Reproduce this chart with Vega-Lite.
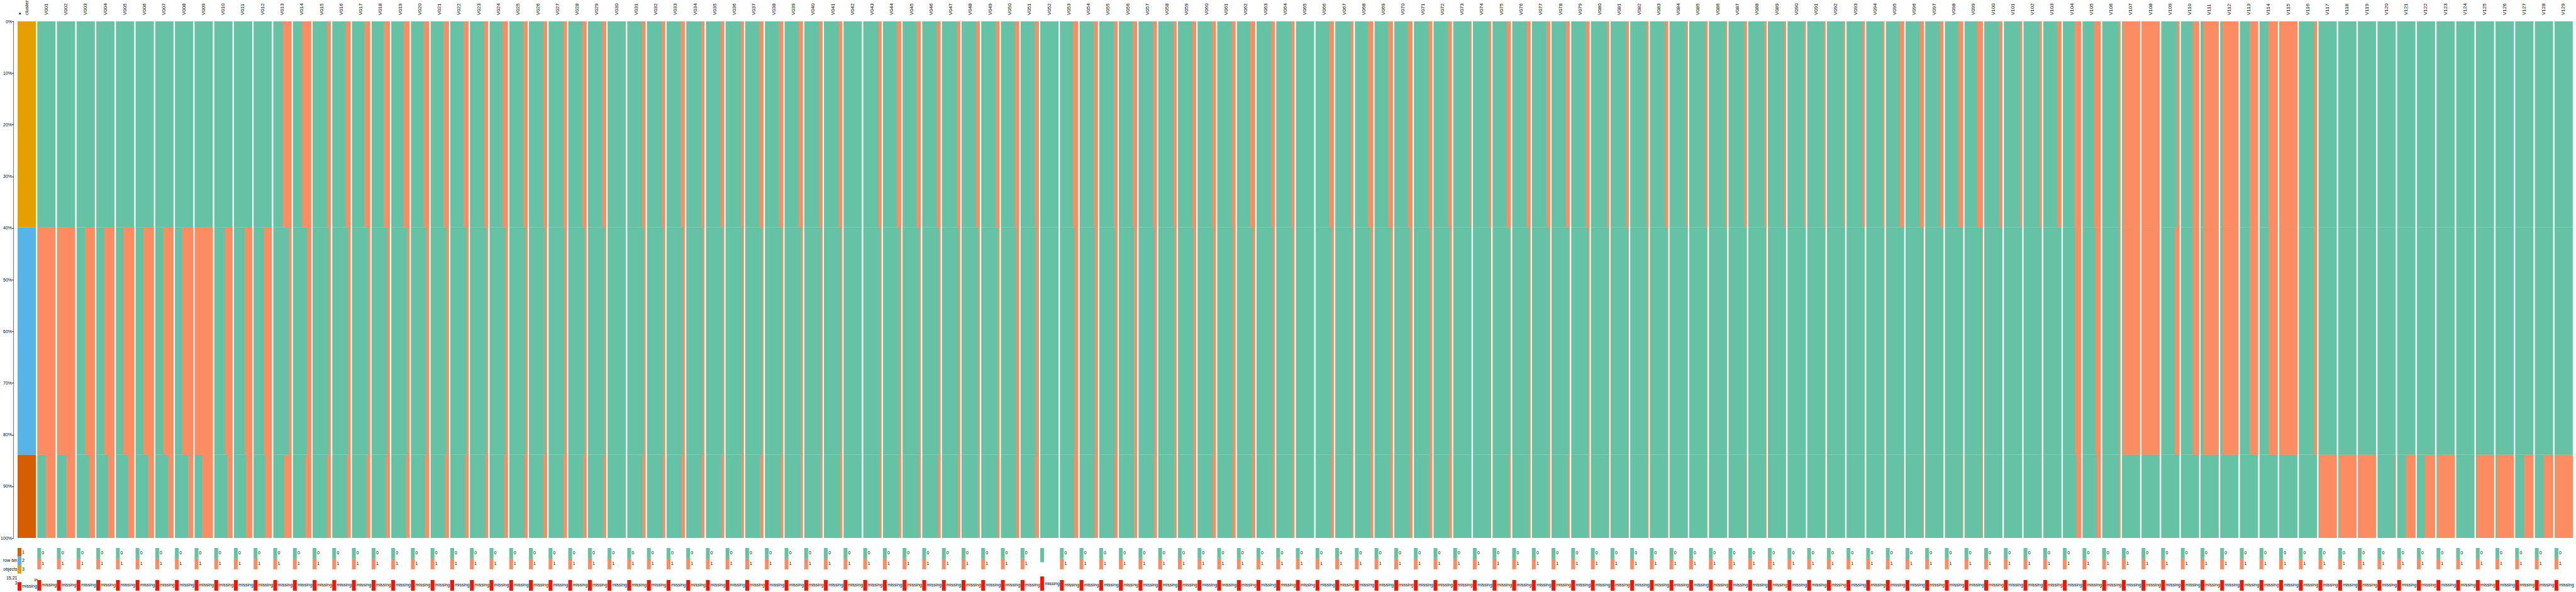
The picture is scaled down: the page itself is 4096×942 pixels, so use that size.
{
  "$schema": "https://vega.github.io/schema/vega-lite/v6.json",
  "autosize": {"type": "pad"},
  "padding": {"left": 0, "top": 0, "right": 0, "bottom": 0},
  "background": "white",
  "config": {"view": {"stroke": null}, "font": "Liberation Sans"},
  "datasets": {
    "seg": [
      {"f": "a", "lo": 0, "hi": 39.8, "cl": "3"},
      {"f": "b", "lo": 39.8, "hi": 83.9, "cl": "2"},
      {"f": "c", "lo": 83.9, "hi": 100, "cl": "1"}
    ],
    "keys": [
      {"k": "g", "t": "0"}, {"k": "o", "t": "1"}, {"k": "z0", "t": ""}, {"k": "gap", "t": ""},
      {"k": "missing", "t": "missing"}, {"k": "1", "t": "1"}, {"k": "2", "t": "2"}, {"k": "3", "t": "3"}
    ],
    "main": [
      {"v":"cluster","a":1,"b":1,"c":1},
      {"v":"V001","a":0,"b":0.98,"c":0.54},{"v":"V002","a":0,"b":0.95,"c":0.5},{"v":"V003","a":0,"b":0.54,"c":0.31},
      {"v":"V004","a":0,"b":0.58,"c":0.36},{"v":"V005","a":0,"b":0.6,"c":0.35},{"v":"V006","a":0,"b":0.57,"c":0.31},
      {"v":"V007","a":0,"b":0.57,"c":0.29},{"v":"V008","a":0,"b":0.62,"c":0.28},{"v":"V009","a":0,"b":0.98,"c":0.6},
      {"v":"V010","a":0,"b":0.41,"c":0.3},{"v":"V011","a":0,"b":0.42,"c":0.34},{"v":"V012","a":0,"b":0.43,"c":0.37},
      {"v":"V013","a":0.47,"b":0.13,"c":0.4},{"v":"V014","a":0.5,"b":0.22,"c":0.33},{"v":"V015","a":0.2,"b":0.12,"c":0.2},
      {"v":"V016","a":0.26,"b":0.12,"c":0.18},{"v":"V017","a":0.32,"b":0.12,"c":0.2},{"v":"V018","a":0.32,"b":0.14,"c":0.2},
      {"v":"V019","a":0.33,"b":0.12,"c":0.2},{"v":"V020","a":0.3,"b":0.15,"c":0.22},{"v":"V021","a":0.3,"b":0.15,"c":0.22},
      {"v":"V022","a":0.28,"b":0.13,"c":0.18},{"v":"V023","a":0.22,"b":0.1,"c":0.15},{"v":"V024","a":0.3,"b":0.12,"c":0.2},
      {"v":"V025","a":0.22,"b":0.1,"c":0.18},{"v":"V026","a":0.2,"b":0.12,"c":0.2},{"v":"V027","a":0.18,"b":0.12,"c":0.18},
      {"v":"V028","a":0.22,"b":0.1,"c":0.18},{"v":"V029","a":0.2,"b":0.08,"c":0.15},{"v":"V030","a":0.01,"b":0,"c":0.01},
      {"v":"V031","a":0.2,"b":0.1,"c":0.18},{"v":"V032","a":0.18,"b":0.1,"c":0.15},{"v":"V033","a":0.22,"b":0.1,"c":0.18},
      {"v":"V034","a":0.18,"b":0.1,"c":0.15},{"v":"V035","a":0.18,"b":0.08,"c":0.15},{"v":"V036","a":0.15,"b":0.08,"c":0.12},
      {"v":"V037","a":0.22,"b":0.1,"c":0.18},{"v":"V038","a":0.22,"b":0.08,"c":0.12},{"v":"V039","a":0.22,"b":0.08,"c":0.12},
      {"v":"V040","a":0.18,"b":0.07,"c":0.1},{"v":"V041","a":0.2,"b":0.08,"c":0.1},{"v":"V042","a":0.005,"b":0,"c":0},
      {"v":"V043","a":0.18,"b":0.08,"c":0.1},{"v":"V044","a":0.23,"b":0.08,"c":0.1},{"v":"V045","a":0.24,"b":0.09,"c":0.12},
      {"v":"V046","a":0.2,"b":0.09,"c":0.12},{"v":"V047","a":0.18,"b":0.08,"c":0.12},{"v":"V048","a":0.2,"b":0.08,"c":0.1},
      {"v":"V049","a":0.2,"b":0.08,"c":0.1},{"v":"V050","a":0.23,"b":0.15,"c":0.15},{"v":"V051","a":0.22,"b":0.17,"c":0.2},
      {"v":"V052","a":0,"b":0,"c":0},{"v":"V053","a":0.28,"b":0.2,"c":0.22},{"v":"V054","a":0.23,"b":0.17,"c":0.18},
      {"v":"V055","a":0.2,"b":0.14,"c":0.16},{"v":"V056","a":0.25,"b":0.18,"c":0.18},{"v":"V057","a":0.2,"b":0.14,"c":0.16},
      {"v":"V058","a":0.18,"b":0.1,"c":0.12},{"v":"V059","a":0.2,"b":0.14,"c":0.16},{"v":"V060","a":0.2,"b":0.15,"c":0.17},
      {"v":"V061","a":0.2,"b":0.14,"c":0.16},{"v":"V062","a":0.28,"b":0.14,"c":0.17},{"v":"V063","a":0.2,"b":0.1,"c":0.13},
      {"v":"V064","a":0.18,"b":0.1,"c":0.1},{"v":"V065","a":0.005,"b":0,"c":0},{"v":"V066","a":0.25,"b":0.13,"c":0.15},
      {"v":"V067","a":0.15,"b":0.08,"c":0.1},{"v":"V068","a":0.28,"b":0.13,"c":0.15},{"v":"V069","a":0.24,"b":0.12,"c":0.14},
      {"v":"V070","a":0.25,"b":0.13,"c":0.16},{"v":"V071","a":0.2,"b":0.13,"c":0.15},{"v":"V072","a":0.2,"b":0.12,"c":0.14},
      {"v":"V073","a":0.08,"b":0.01,"c":0.01},{"v":"V074","a":0.1,"b":0.02,"c":0.02},{"v":"V075","a":0.22,"b":0.05,"c":0.07},
      {"v":"V076","a":0.2,"b":0.06,"c":0.08},{"v":"V077","a":0.2,"b":0.05,"c":0.07},{"v":"V078","a":0.22,"b":0.05,"c":0.07},
      {"v":"V079","a":0.22,"b":0.05,"c":0.07},{"v":"V080","a":0.13,"b":0.04,"c":0.04},{"v":"V081","a":0.15,"b":0.04,"c":0.04},
      {"v":"V082","a":0.1,"b":0.04,"c":0.04},{"v":"V083","a":0.15,"b":0.03,"c":0.03},{"v":"V084","a":0.1,"b":0.02,"c":0.02},
      {"v":"V085","a":0.1,"b":0.01,"c":0.01},{"v":"V086","a":0.08,"b":0.01,"c":0.01},{"v":"V087","a":0.15,"b":0.02,"c":0.03},
      {"v":"V088","a":0.12,"b":0.02,"c":0.02},{"v":"V089","a":0.12,"b":0.02,"c":0.02},{"v":"V090","a":0.09,"b":0.01,"c":0.01},
      {"v":"V091","a":0.08,"b":0.01,"c":0.01},{"v":"V092","a":0.1,"b":0.01,"c":0.01},{"v":"V093","a":0.12,"b":0.01,"c":0.01},
      {"v":"V094","a":0.08,"b":0.01,"c":0.01},{"v":"V095","a":0.25,"b":0.02,"c":0.03},{"v":"V096","a":0.22,"b":0.02,"c":0.03},
      {"v":"V097","a":0.2,"b":0.02,"c":0.03},{"v":"V098","a":0.25,"b":0.02,"c":0.03},{"v":"V099","a":0.3,"b":0.02,"c":0.03},
      {"v":"V100","a":0.18,"b":0.01,"c":0.01},{"v":"V101","a":0.1,"b":0.01,"c":0.01},{"v":"V102","a":0.13,"b":0.01,"c":0.01},
      {"v":"V103","a":0.22,"b":0.02,"c":0.02},{"v":"V104","a":0.36,"b":0.33,"c":0.27},{"v":"V105","a":0.37,"b":0.3,"c":0.22},
      {"v":"V106","a":0.1,"b":0.07,"c":0.05},{"v":"V107","a":0.96,"b":0.96,"c":0},{"v":"V108","a":0.99,"b":0.99,"c":0},
      {"v":"V109","a":0.13,"b":0.25,"c":0},{"v":"V110","a":0.35,"b":0.35,"c":0},{"v":"V111","a":0.85,"b":0.85,"c":0},
      {"v":"V112","a":0.88,"b":0.88,"c":0},{"v":"V113","a":0.47,"b":0.47,"c":0},{"v":"V114","a":0.52,"b":0.5,"c":0},
      {"v":"V115","a":0.99,"b":0.99,"c":0},{"v":"V116","a":0.16,"b":0.18,"c":0},{"v":"V117","a":0,"b":0,"c":0.97},
      {"v":"V118","a":0,"b":0,"c":0.95},{"v":"V119","a":0,"b":0,"c":0.97},{"v":"V120","a":0,"b":0,"c":0.03},
      {"v":"V121","a":0,"b":0,"c":0.52},{"v":"V122","a":0,"b":0,"c":0.57},{"v":"V123","a":0,"b":0,"c":0.97},
      {"v":"V124","a":0,"b":0,"c":0.01},{"v":"V125","a":0,"b":0,"c":0.95},{"v":"V126","a":0,"b":0,"c":0.95},
      {"v":"V127","a":0,"b":0,"c":0.52},{"v":"V128","a":0,"b":0,"c":0.52},{"v":"V129","a":0,"b":0,"c":0.97}
    ],
    "leg": [
      {"v":"cluster","k":["1","2","3","gap","missing"]},
      {"v":"cluster","k":["2"],"n":"row bin"},
      {"v":"cluster","k":["3"],"n":"objects"},
      {"v":"cluster","k":["gap"],"n":"15,21\n3"},
      {"v":"cluster","k":["gap"],"m":"in"},
      {"v":"V001","k":["g","o","gap","missing"]},{"v":"V002","k":["g","o","gap","missing"]},{"v":"V003","k":["g","o","gap","missing"]},
      {"v":"V004","k":["g","o","gap","missing"]},{"v":"V005","k":["g","o","gap","missing"]},{"v":"V006","k":["g","o","gap","missing"]},
      {"v":"V007","k":["g","o","gap","missing"]},{"v":"V008","k":["g","o","gap","missing"]},{"v":"V009","k":["g","o","gap","missing"]},
      {"v":"V010","k":["g","o","gap","missing"]},{"v":"V011","k":["g","o","gap","missing"]},{"v":"V012","k":["g","o","gap","missing"]},
      {"v":"V013","k":["g","o","gap","missing"]},{"v":"V014","k":["g","o","gap","missing"]},{"v":"V015","k":["g","o","gap","missing"]},
      {"v":"V016","k":["g","o","gap","missing"]},{"v":"V017","k":["g","o","gap","missing"]},{"v":"V018","k":["g","o","gap","missing"]},
      {"v":"V019","k":["g","o","gap","missing"]},{"v":"V020","k":["g","o","gap","missing"]},{"v":"V021","k":["g","o","gap","missing"]},
      {"v":"V022","k":["g","o","gap","missing"]},{"v":"V023","k":["g","o","gap","missing"]},{"v":"V024","k":["g","o","gap","missing"]},
      {"v":"V025","k":["g","o","gap","missing"]},{"v":"V026","k":["g","o","gap","missing"]},{"v":"V027","k":["g","o","gap","missing"]},
      {"v":"V028","k":["g","o","gap","missing"]},{"v":"V029","k":["g","o","gap","missing"]},{"v":"V030","k":["g","o","gap","missing"]},
      {"v":"V031","k":["g","o","gap","missing"]},{"v":"V032","k":["g","o","gap","missing"]},{"v":"V033","k":["g","o","gap","missing"]},
      {"v":"V034","k":["g","o","gap","missing"]},{"v":"V035","k":["g","o","gap","missing"]},{"v":"V036","k":["g","o","gap","missing"]},
      {"v":"V037","k":["g","o","gap","missing"]},{"v":"V038","k":["g","o","gap","missing"]},{"v":"V039","k":["g","o","gap","missing"]},
      {"v":"V040","k":["g","o","gap","missing"]},{"v":"V041","k":["g","o","gap","missing"]},{"v":"V042","k":["g","o","gap","missing"]},
      {"v":"V043","k":["g","o","gap","missing"]},{"v":"V044","k":["g","o","gap","missing"]},{"v":"V045","k":["g","o","gap","missing"]},
      {"v":"V046","k":["g","o","gap","missing"]},{"v":"V047","k":["g","o","gap","missing"]},{"v":"V048","k":["g","o","gap","missing"]},
      {"v":"V049","k":["g","o","gap","missing"]},{"v":"V050","k":["g","o","gap","missing"]},{"v":"V051","k":["g","o","gap","missing"]},
      {"v":"V052","k":["z0","gap","missing"]},{"v":"V053","k":["g","o","gap","missing"]},{"v":"V054","k":["g","o","gap","missing"]},
      {"v":"V055","k":["g","o","gap","missing"]},{"v":"V056","k":["g","o","gap","missing"]},{"v":"V057","k":["g","o","gap","missing"]},
      {"v":"V058","k":["g","o","gap","missing"]},{"v":"V059","k":["g","o","gap","missing"]},{"v":"V060","k":["g","o","gap","missing"]},
      {"v":"V061","k":["g","o","gap","missing"]},{"v":"V062","k":["g","o","gap","missing"]},{"v":"V063","k":["g","o","gap","missing"]},
      {"v":"V064","k":["g","o","gap","missing"]},{"v":"V065","k":["g","o","gap","missing"]},{"v":"V066","k":["g","o","gap","missing"]},
      {"v":"V067","k":["g","o","gap","missing"]},{"v":"V068","k":["g","o","gap","missing"]},{"v":"V069","k":["g","o","gap","missing"]},
      {"v":"V070","k":["g","o","gap","missing"]},{"v":"V071","k":["g","o","gap","missing"]},{"v":"V072","k":["g","o","gap","missing"]},
      {"v":"V073","k":["g","o","gap","missing"]},{"v":"V074","k":["g","o","gap","missing"]},{"v":"V075","k":["g","o","gap","missing"]},
      {"v":"V076","k":["g","o","gap","missing"]},{"v":"V077","k":["g","o","gap","missing"]},{"v":"V078","k":["g","o","gap","missing"]},
      {"v":"V079","k":["g","o","gap","missing"]},{"v":"V080","k":["g","o","gap","missing"]},{"v":"V081","k":["g","o","gap","missing"]},
      {"v":"V082","k":["g","o","gap","missing"]},{"v":"V083","k":["g","o","gap","missing"]},{"v":"V084","k":["g","o","gap","missing"]},
      {"v":"V085","k":["g","o","gap","missing"]},{"v":"V086","k":["g","o","gap","missing"]},{"v":"V087","k":["g","o","gap","missing"]},
      {"v":"V088","k":["g","o","gap","missing"]},{"v":"V089","k":["g","o","gap","missing"]},{"v":"V090","k":["g","o","gap","missing"]},
      {"v":"V091","k":["g","o","gap","missing"]},{"v":"V092","k":["g","o","gap","missing"]},{"v":"V093","k":["g","o","gap","missing"]},
      {"v":"V094","k":["g","o","gap","missing"]},{"v":"V095","k":["g","o","gap","missing"]},{"v":"V096","k":["g","o","gap","missing"]},
      {"v":"V097","k":["g","o","gap","missing"]},{"v":"V098","k":["g","o","gap","missing"]},{"v":"V099","k":["g","o","gap","missing"]},
      {"v":"V100","k":["g","o","gap","missing"]},{"v":"V101","k":["g","o","gap","missing"]},{"v":"V102","k":["g","o","gap","missing"]},
      {"v":"V103","k":["g","o","gap","missing"]},{"v":"V104","k":["g","o","gap","missing"]},{"v":"V105","k":["g","o","gap","missing"]},
      {"v":"V106","k":["g","o","gap","missing"]},{"v":"V107","k":["g","o","gap","missing"]},{"v":"V108","k":["g","o","gap","missing"]},
      {"v":"V109","k":["g","o","gap","missing"]},{"v":"V110","k":["g","o","gap","missing"]},{"v":"V111","k":["g","o","gap","missing"]},
      {"v":"V112","k":["g","o","gap","missing"]},{"v":"V113","k":["g","o","gap","missing"]},{"v":"V114","k":["g","o","gap","missing"]},
      {"v":"V115","k":["g","o","gap","missing"]},{"v":"V116","k":["g","o","gap","missing"]},{"v":"V117","k":["g","o","gap","missing"]},
      {"v":"V118","k":["g","o","gap","missing"]},{"v":"V119","k":["g","o","gap","missing"]},{"v":"V120","k":["g","o","gap","missing"]},
      {"v":"V121","k":["g","o","gap","missing"]},{"v":"V122","k":["g","o","gap","missing"]},{"v":"V123","k":["g","o","gap","missing"]},
      {"v":"V124","k":["g","o","gap","missing"]},{"v":"V125","k":["g","o","gap","missing"]},{"v":"V126","k":["g","o","gap","missing"]},
      {"v":"V127","k":["g","o","gap","missing"]},{"v":"V128","k":["g","o","gap","missing"]},{"v":"V129","k":["g","o","gap","missing"]}
    ]
  },
  "columns": 1,
  "align": "all",
  "bounds": "full",
  "spacing": 12.9,
  "resolve": {"scale": {"color": "independent"}},
  "concat": [
    {
      "data": {"name": "main"},
      "transform": [
        {"fold": ["a", "b", "c"], "as": ["f", "val"]},
        {"lookup": "f", "from": {"data": {"name": "seg"}, "key": "f", "fields": ["lo", "hi", "cl"]}}
      ],
      "facet": {"column": {"field": "v", "type": "nominal", "header": {"labels": false, "title": null, "labelPadding": 0, "titlePadding": 0},
        "sort": ["cluster","V001","V002","V003","V004","V005","V006","V007","V008","V009","V010","V011","V012","V013","V014","V015","V016","V017","V018","V019","V020","V021","V022","V023","V024","V025","V026","V027","V028","V029","V030","V031","V032","V033","V034","V035","V036","V037","V038","V039","V040","V041","V042","V043","V044","V045","V046","V047","V048","V049","V050","V051","V052","V053","V054","V055","V056","V057","V058","V059","V060","V061","V062","V063","V064","V065","V066","V067","V068","V069","V070","V071","V072","V073","V074","V075","V076","V077","V078","V079","V080","V081","V082","V083","V084","V085","V086","V087","V088","V089","V090","V091","V092","V093","V094","V095","V096","V097","V098","V099","V100","V101","V102","V103","V104","V105","V106","V107","V108","V109","V110","V111","V112","V113","V114","V115","V116","V117","V118","V119","V120","V121","V122","V123","V124","V125","V126","V127","V128","V129"]}},
      "spacing": {"column": 2.27},
      "bounds": "flush",
      "spec": {
        "width": 29,
        "height": 822,
        "layer": [
          {
            "transform": [{"filter": "datum.v != 'cluster'"}],
            "mark": {"type": "rect", "color": "#66C2A5"},
            "encoding": {
              "y": {"field": "lo", "type": "quantitative", "scale": {"domain": [0, 100], "reverse": true, "nice": false, "zero": false},
                "axis": {"title": null, "values": [0, 10, 20, 30, 40, 50, 60, 70, 80, 90, 100], "labelExpr": "datum.value + '%'", "grid": false, "offset": 7, "tickSize": 2, "labelPadding": 0.5, "domainDash": [1, 1], "domainColor": "#000", "domainWidth": 1.2, "tickColor": "#000", "labelColor": "#000", "labelFontSize": 7, "labelFont": "Liberation Sans", "labelFlush": false, "labelOverlap": false}},
              "y2": {"field": "hi"}
            }
          },
          {
            "transform": [{"filter": "datum.v != 'cluster' && datum.val > 0"}],
            "mark": {"type": "rect", "color": "#FC8D62"},
            "encoding": {
              "x": {"field": "val", "type": "quantitative", "scale": {"domain": [0, 1], "reverse": true, "nice": false, "zero": true}, "axis": null},
              "y": {"field": "lo", "type": "quantitative", "scale": {"domain": [0, 100], "reverse": true, "nice": false, "zero": false},
                "axis": {"title": null, "values": [0, 10, 20, 30, 40, 50, 60, 70, 80, 90, 100], "labelExpr": "datum.value + '%'", "grid": false, "offset": 7, "tickSize": 2, "labelPadding": 0.5, "domainDash": [1, 1], "domainColor": "#000", "domainWidth": 1.2, "tickColor": "#000", "labelColor": "#000", "labelFontSize": 7, "labelFont": "Liberation Sans", "labelFlush": false, "labelOverlap": false}},
              "y2": {"field": "hi"}
            }
          },
          {
            "transform": [{"filter": "datum.v == 'cluster'"}],
            "mark": {"type": "rect"},
            "encoding": {
              "y": {"field": "lo", "type": "quantitative", "scale": {"domain": [0, 100], "reverse": true, "nice": false, "zero": false},
                "axis": {"title": null, "values": [0, 10, 20, 30, 40, 50, 60, 70, 80, 90, 100], "labelExpr": "datum.value + '%'", "grid": false, "offset": 7, "tickSize": 2, "labelPadding": 0.5, "domainDash": [1, 1], "domainColor": "#000", "domainWidth": 1.2, "tickColor": "#000", "labelColor": "#000", "labelFontSize": 7, "labelFont": "Liberation Sans", "labelFlush": false, "labelOverlap": false}},
              "y2": {"field": "hi"},
              "color": {"field": "cl", "type": "nominal", "legend": null,
                "scale": {"domain": ["g", "o", "1", "2", "3", "z0", "missing", "gap"],
                          "range": ["#66C2A5", "#FC8D62", "#D55E00", "#56B4E9", "#E69F00", "#66C2A5", "#FF1100", "rgba(255,255,255,0)"]}}
            }
          },
          {
            "transform": [{"filter": "datum.f == 'a'"}],
            "mark": {"type": "text", "angle": 270, "align": "left", "baseline": "middle", "dx": 10, "fontSize": 8, "color": "#000"},
            "encoding": {
              "y": {"field": "lo", "type": "quantitative", "scale": {"domain": [0, 100], "reverse": true, "nice": false, "zero": false},
                "axis": {"title": null, "values": [0, 10, 20, 30, 40, 50, 60, 70, 80, 90, 100], "labelExpr": "datum.value + '%'", "grid": false, "offset": 7, "tickSize": 2, "labelPadding": 0.5, "domainDash": [1, 1], "domainColor": "#000", "domainWidth": 1.2, "tickColor": "#000", "labelColor": "#000", "labelFontSize": 7, "labelFont": "Liberation Sans", "labelFlush": false, "labelOverlap": false}},
              "text": {"field": "v"}
            }
          },
          {
            "transform": [{"filter": "datum.f == 'a' && datum.v == 'cluster'"}],
            "mark": {"type": "text", "align": "left", "baseline": "bottom", "dx": -13.8, "dy": -9, "fontSize": 6, "color": "#000", "text": "▼"},
            "encoding": {
              "y": {"field": "lo", "type": "quantitative", "scale": {"domain": [0, 100], "reverse": true, "nice": false, "zero": false},
                "axis": {"title": null, "values": [0, 10, 20, 30, 40, 50, 60, 70, 80, 90, 100], "labelExpr": "datum.value + '%'", "grid": false, "offset": 7, "tickSize": 2, "labelPadding": 0.5, "domainDash": [1, 1], "domainColor": "#000", "domainWidth": 1.2, "tickColor": "#000", "labelColor": "#000", "labelFontSize": 7, "labelFont": "Liberation Sans", "labelFlush": false, "labelOverlap": false}}
            }
          }
        ]
      }
    },
    {
      "data": {"name": "leg"},
      "transform": [
        {"flatten": ["k"]},
        {"lookup": "k", "from": {"data": {"name": "keys"}, "key": "k", "fields": ["t"]}}
      ],
      "facet": {"column": {"field": "v", "type": "nominal", "header": {"labels": false, "title": null, "labelPadding": 0, "titlePadding": 0},
        "sort": ["cluster","V001","V002","V003","V004","V005","V006","V007","V008","V009","V010","V011","V012","V013","V014","V015","V016","V017","V018","V019","V020","V021","V022","V023","V024","V025","V026","V027","V028","V029","V030","V031","V032","V033","V034","V035","V036","V037","V038","V039","V040","V041","V042","V043","V044","V045","V046","V047","V048","V049","V050","V051","V052","V053","V054","V055","V056","V057","V058","V059","V060","V061","V062","V063","V064","V065","V066","V067","V068","V069","V070","V071","V072","V073","V074","V075","V076","V077","V078","V079","V080","V081","V082","V083","V084","V085","V086","V087","V088","V089","V090","V091","V092","V093","V094","V095","V096","V097","V098","V099","V100","V101","V102","V103","V104","V105","V106","V107","V108","V109","V110","V111","V112","V113","V114","V115","V116","V117","V118","V119","V120","V121","V122","V123","V124","V125","V126","V127","V128","V129"]}},
      "spacing": {"column": 2.27},
      "bounds": "flush",
      "resolve": {"scale": {"y": "independent"}},
      "spec": {
        "width": 29,
        "height": 68,
        "layer": [
          {
            "transform": [{"filter": "datum.n == null && datum.m == null"}],
            "mark": {"type": "rect"},
            "encoding": {
              "x": {"datum": 0.21, "type": "quantitative", "scale": {"domain": [0, 1], "nice": false, "zero": true}, "axis": null},
              "y": {"field": "k", "type": "nominal", "sort": null, "axis": null, "scale": {"paddingInner": 0, "paddingOuter": 0}},
              "color": {"field": "k", "type": "nominal", "legend": null,
                "scale": {"domain": ["g", "o", "1", "2", "3", "z0", "missing", "gap"],
                          "range": ["#66C2A5", "#FC8D62", "#D55E00", "#56B4E9", "#E69F00", "#66C2A5", "#FF1100", "rgba(255,255,255,0)"]}}
            }
          },
          {
            "transform": [{"filter": "datum.n == null && datum.m == null"}],
            "mark": {"type": "text", "align": "left", "baseline": "middle", "dx": -7.4, "fontSize": 7, "color": "#000"},
            "encoding": {
              "y": {"field": "k", "type": "nominal", "sort": null, "axis": null, "scale": {"paddingInner": 0, "paddingOuter": 0}},
              "text": {"field": "t"}
            }
          },
          {
            "transform": [{"filter": "datum.n != null"}],
            "mark": {"type": "text", "align": "right", "baseline": "middle", "dx": -15, "fontSize": 7, "color": "#000", "lineBreak": "\n", "lineHeight": 8.6},
            "encoding": {
              "y": {"field": "k", "type": "nominal", "sort": null, "axis": null, "scale": {"paddingInner": 0, "paddingOuter": 0}},
              "text": {"field": "n"}
            }
          },
          {
            "transform": [{"filter": "datum.m != null"}],
            "mark": {"type": "text", "align": "right", "baseline": "middle", "dx": 17.7, "dy": 3.5, "fontSize": 7, "color": "#000"},
            "encoding": {
              "y": {"field": "k", "type": "nominal", "sort": null, "axis": null, "scale": {"paddingInner": 0, "paddingOuter": 0}},
              "text": {"field": "m"}
            }
          }
        ]
      }
    }
  ]
}
